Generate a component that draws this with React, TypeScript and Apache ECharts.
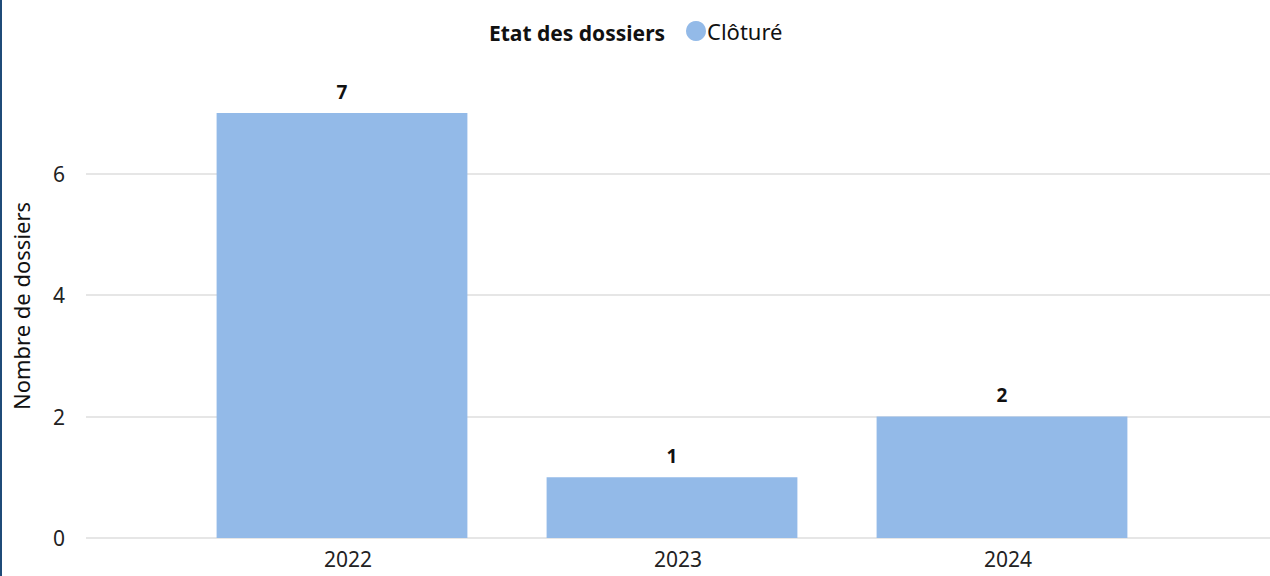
import React, { useEffect, useRef } from "react";
import * as echarts from "echarts";

const categories = ["2022", "2023", "2024"];
const clotureValues = [7, 1, 2];
const yTicks = [0, 2, 4, 6];
const titleText = "Etat des dossiers";
const seriesName = "Clôturé";
const yAxisName = "Nombre de dossiers";

const FONT = "'Noto Sans', 'Open Sans', sans-serif";

export default function App() {
  const ref = useRef<HTMLDivElement>(null);
  useEffect(() => {
    document.body.style.margin = "0";
    const chart = echarts.init(ref.current!, undefined, { renderer: "svg" });
    const yMax = 7;
    chart.setOption({
      animation: false,
      textStyle: { fontFamily: FONT },
      title: {
        text: titleText,
        left: 484,
        top: 17,
        textStyle: { fontFamily: FONT, fontSize: 21, fontWeight: "bold", color: "#111" },
      },
      legend: {
        data: [seriesName],
        left: 681,
        top: 15,
        icon: "circle",
        itemWidth: 20,
        itemHeight: 20,
        textStyle: { fontFamily: FONT, fontSize: 22, color: "#111", padding: [0, 0, 0, -4] },
      },
      grid: [
        { left: 86, right: 0, top: 113, bottom: 38 },
        { left: 177, right: 103, top: 113, bottom: 38 },
      ],
      xAxis: [
        { type: "category", gridIndex: 0, data: categories, show: false },
        {
          type: "category",
          gridIndex: 1,
          data: categories,
          axisLine: { show: false },
          axisTick: { show: false },
          axisLabel: {
            fontFamily: FONT,
            fontSize: 21,
            color: "#222",
            margin: 10,
            padding: [0, 0, 0, 12],
          },
        },
      ],
      yAxis: [
        {
          type: "value",
          gridIndex: 0,
          min: yTicks[0],
          max: yMax,
          interval: 2,
          axisLine: { show: false },
          axisTick: { show: false },
          axisLabel: {
            fontFamily: FONT,
            fontSize: 21,
            color: "#222",
            margin: 21,
            showMaxLabel: false,
          },
          splitLine: { show: true, showMaxLine: false, lineStyle: { color: "#e6e6e6", width: 2 } },
        },
        {
          type: "value",
          gridIndex: 1,
          min: yTicks[0],
          max: yMax,
          interval: 2,
          show: false,
          splitLine: { show: false },
        },
      ],
      graphic: [
        {
          type: "text",
          x: 21,
          y: 306,
          rotation: Math.PI / 2,
          style: {
            text: yAxisName,
            fontFamily: FONT,
            fontSize: 22,
            fill: "#111",
            textAlign: "center",
            textVerticalAlign: "middle",
          },
        },
      ],
      series: [
        {
          name: seriesName,
          type: "bar",
          xAxisIndex: 1,
          yAxisIndex: 1,
          data: clotureValues,
          barCategoryGap: "24%",
          itemStyle: { color: "#93bae8" },
          label: {
            show: true,
            position: "top",
            distance: 12,
            fontFamily: FONT,
            fontSize: 19,
            fontWeight: "bold",
            color: "#111",
          },
        },
      ],
    });
    return () => chart.dispose();
  }, []);
  return (
    <div style={{ position: "relative", width: 1270, height: 576, background: "#fff" }}>
      <div ref={ref} style={{ position: "absolute", left: 0, top: 0, width: 1270, height: 576 }} />
      <div style={{ position: "absolute", left: 0, top: 0, width: 2, height: 576, background: "#1f4b78" }} />
    </div>
  );
}
